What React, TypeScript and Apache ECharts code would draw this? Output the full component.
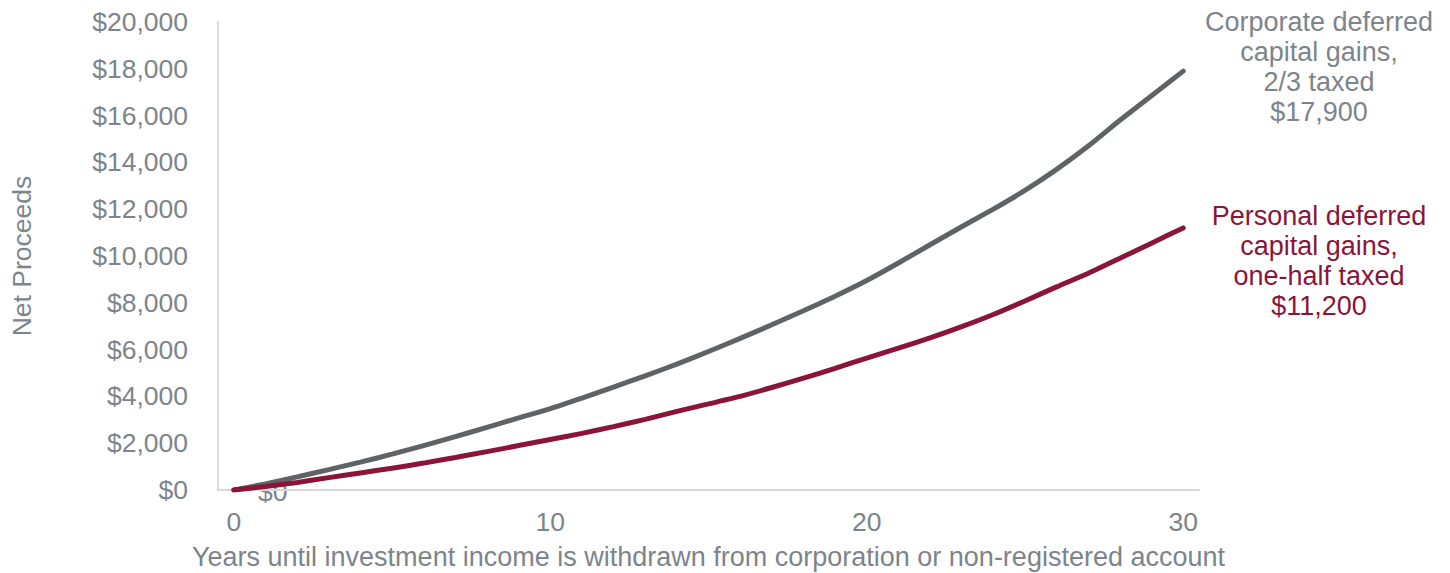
import React, { useEffect, useRef } from "react";
import * as echarts from "echarts";

const years: string[] = Array.from({ length: 31 }, (_, i) => String(i));
const corporate: number[] = [
  0, 260, 560, 870, 1190, 1530, 1900, 2280, 2680, 3080, 3480, 3930, 4400, 4880, 5380,
  5920, 6480, 7060, 7660, 8280, 8950, 9700, 10480, 11250, 12000, 12800, 13700, 14700,
  15800, 16850, 17900,
];
const personal: number[] = [
  0, 150, 320, 530, 730, 930, 1150, 1390, 1640, 1900, 2160, 2420, 2710, 3020, 3360,
  3680, 4000, 4380, 4780, 5200, 5640, 6060, 6500, 6980, 7500, 8080, 8680, 9260, 9900,
  10550, 11200,
];
const corporateLabel = ["Corporate deferred", "capital gains,", "2/3 taxed", "$17,900"];
const personalLabel = ["Personal deferred", "capital gains,", "one-half taxed", "$11,200"];

const GRAY_TEXT = "#7d848a";
const GRAY_LINE = "#5f6366";
const RED = "#8a1538";
const FONT = "Liberation Sans";
const FS = 26.5;
const FS_BIG = 27;

export default function App() {
  const ref = useRef<HTMLDivElement>(null);
  useEffect(() => {
    if (!ref.current) return;
    document.body.style.margin = "0";
    const chart = echarts.init(ref.current, null, { renderer: "svg" });
    chart.setOption({
      animation: false,
      textStyle: { fontFamily: FONT },
      grid: {
        left: 218,
        right: 251,
        top: 22,
        bottom: 83,
        containLabel: false,
        outerBoundsMode: "none",
      },
      xAxis: {
        type: "category",
        data: years,
        boundaryGap: true,
        name: "Years until investment income is withdrawn from corporation or non-registered account",
        nameLocation: "middle",
        nameGap: 53,
        nameTextStyle: { color: GRAY_TEXT, fontSize: FS_BIG, fontFamily: FONT },
        axisLine: { lineStyle: { color: "#d9d9d9", width: 2 } },
        axisTick: { show: false },
        axisLabel: {
          interval: 9,
          color: GRAY_TEXT,
          fontSize: FS,
          margin: 18,
          fontFamily: FONT,
        },
        splitLine: { show: false },
      },
      yAxis: {
        type: "value",
        min: 0,
        max: 20000,
        interval: 2000,
        name: "Net Proceeds",
        nameLocation: "middle",
        nameGap: 183,
        nameTextStyle: { color: GRAY_TEXT, fontSize: FS, fontFamily: FONT },
        axisLine: { show: true, lineStyle: { color: "#d9d9d9", width: 2 } },
        axisTick: { show: false },
        splitLine: { show: false },
        axisLabel: {
          color: GRAY_TEXT,
          fontSize: FS,
          margin: 30,
          fontFamily: FONT,
          formatter: (v: number) => "$" + v.toLocaleString("en-US"),
        },
      },
      series: [
        {
          name: "Corporate",
          type: "line",
          data: corporate,
          symbol: "none",
          smooth: 0.2,
          lineStyle: { color: GRAY_LINE, width: 5, cap: "round" },
        },
        {
          name: "Personal",
          type: "line",
          data: personal,
          symbol: "none",
          smooth: 0.2,
          lineStyle: { color: RED, width: 5, cap: "round" },
        },
      ],
      graphic: [
        {
          type: "text",
          x: 1319,
          y: 7,
          style: {
            text: corporateLabel.join("\n"),
            fill: GRAY_TEXT,
            font: `${FS_BIG}px "${FONT}"`,
            textAlign: "center",
            lineHeight: 30,
          },
        },
        {
          type: "text",
          x: 1319,
          y: 201,
          style: {
            text: personalLabel.join("\n"),
            fill: RED,
            font: `${FS_BIG}px "${FONT}"`,
            textAlign: "center",
            lineHeight: 30,
          },
        },
        {
          type: "text",
          x: 258,
          y: 492,
          style: {
            text: "$0",
            fill: GRAY_TEXT,
            font: `${FS}px "${FONT}"`,
            verticalAlign: "middle",
          },
        },
      ],
    });
    return () => chart.dispose();
  }, []);
  return <div ref={ref} style={{ width: 1450, height: 573 }} />;
}
